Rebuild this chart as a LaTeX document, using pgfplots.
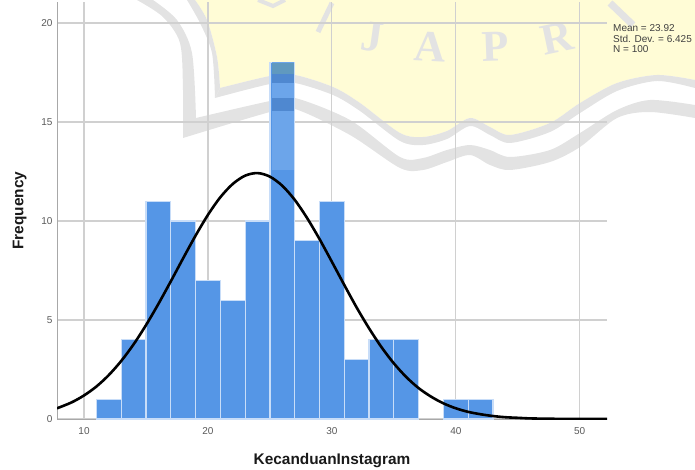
\documentclass[border=0pt]{standalone}
\usepackage{pgfplots}
\pgfplotsset{compat=1.18}
\usepackage{fontspec}
\setmainfont{Liberation Sans}
\newfontfamily\markfont{Liberation Serif}

\definecolor{barblue}{HTML}{5596E6}
\definecolor{baredge}{HTML}{C8DDF8}
\definecolor{gridgray}{HTML}{D0D0D0}
\definecolor{axisgray}{HTML}{A8A8A8}
\definecolor{wmyellow}{HTML}{FFFCD6}
\definecolor{wmgray}{HTML}{E3E3E3}
\definecolor{barlight}{HTML}{6CA5EA}
\definecolor{bartop}{HTML}{6099BF}
\definecolor{barband}{HTML}{4F88D0}

\begin{document}
\begin{tikzpicture}[x=1pt,y=1pt]
  \path[use as bounding box] (0,0) rectangle (695,469);

  % watermark, in image pixels (y runs down)
  \begin{scope}[yshift=469pt,y=-1pt]
    \clip (0,0) rectangle (695,469);
    \fill[wmyellow] plot[smooth] coordinates {(195,0) (207,20) (217,57) (220,88)}
      -- plot[smooth] coordinates {(220,88) (270,76) (295,75) (333,87) (360,103) (400,133) (423,137) (447,131) (470,118) (490,127) (510,135) (550,123) (580,103) (617,83) (657,75) (695,80)}
      -- (695,0) -- cycle;
    % inner band
    \fill[wmgray] plot[smooth] coordinates {(187,0) (200,23) (212,53) (215,98)}
      -- (220,88)
      -- plot[smooth] coordinates {(220,88) (217,57) (207,20) (195,0)} -- cycle;
    \fill[wmgray] plot[smooth] coordinates {(215,98) (270,84) (295,83) (333,95) (360,111) (400,141) (423,145) (447,139) (470,126) (490,135) (510,143) (550,132) (580,113) (617,91) (657,81) (695,88)}
      -- plot[smooth] coordinates {(695,80) (657,75) (617,83) (580,103) (550,123) (510,135) (490,127) (470,118) (447,131) (423,137) (400,133) (360,103) (333,87) (295,75) (270,76) (220,88)} -- cycle;
    % outer band
    \fill[wmgray] plot[smooth] coordinates {(137,0) (163,17) (180,43) (183,90) (183,138)}
      -- plot[smooth] coordinates {(183,138) (270,112) (295,109) (350,135) (400,168) (423,170) (447,162) (470,155) (490,165) (510,170) (550,162) (580,147) (617,118) (650,112) (695,118)}
      -- plot[smooth] coordinates {(695,105) (650,100) (617,110) (580,133) (550,150) (510,157) (490,150) (470,145) (447,150) (423,158) (400,157) (350,120) (295,98) (270,101) (196,118)}
      -- plot[smooth] coordinates {(196,118) (192,53) (177,20) (153,0)} -- cycle;
    % lettering of the arch
    \draw[wmgray,line width=5pt] (332,3) -- (318,32);
    \draw[wmgray,line width=4pt] (258,0) -- (273,6) -- (285,0);
    \draw[wmgray,line width=7pt] (610,3) -- (633,25);
    \node[text=wmgray,font=\markfont\bfseries\fontsize{44}{44}\selectfont,rotate=-8] at (372,37) {J};
    \node[text=wmgray,font=\markfont\bfseries\fontsize{44}{44}\selectfont,rotate=-3] at (430,47) {A};
    \node[text=wmgray,font=\markfont\bfseries\fontsize{44}{44}\selectfont,rotate=2] at (495,47) {P};
    \node[text=wmgray,font=\markfont\bfseries\fontsize{44}{44}\selectfont,rotate=12] at (557,38) {R};
  \end{scope}

  \begin{axis}[
      at={(57pt,50pt)}, anchor=south west,
      scale only axis,
      width=550pt, height=417pt,
      xmin=7.82, xmax=52.2,
      ymin=0, ymax=21.06,
      axis lines=left,
      axis line style={axisgray,line width=1pt,-},
      xtick={10,20,30,40,50},
      ytick={0,5,10,15,20},
      major tick length=0pt,
      grid=major,
      grid style={gridgray,line width=1.1pt},
      tick label style={text=black!65,font=\fontsize{10}{12}\selectfont},
      /pgf/number format/assume math mode=true,
      xticklabel style={yshift=-5pt},
      yticklabel style={xshift=-1pt},
      xlabel={KecanduanInstagram},
      ylabel={Frequency},
      label style={font=\bfseries\fontsize{15.4}{17}\selectfont,text=black!90},
      xlabel style={yshift=-12pt},
      ylabel style={yshift=8pt},
      clip=true,
  ]
    \addplot[ybar,bar width=2,bar shift=0pt,fill=barblue,draw=baredge,line width=1.2pt]
      coordinates {(12,1) (14,4) (16,11) (18,10) (20,7) (22,6) (24,10) (26,18)
                   (28,9) (30,11) (32,3) (34,4) (36,4) (40,1) (42,1)};

    \addplot[black,line width=2.6pt,smooth,mark=none] coordinates {
      (7.82,0.54) (9,0.84) (10,1.19) (11,1.64) (12,2.22) (13,2.93) (14,3.77)
      (15,4.74) (16,5.81) (17,6.95) (18,8.12) (19,9.26) (20,10.31) (21,11.20)
      (22,11.87) (23,12.29) (24,12.42) (25,12.24) (26,11.78) (27,11.07)
      (28,10.15) (29,9.09) (30,7.94) (31,6.77) (32,5.63) (33,4.58) (34,3.63)
      (35,2.81) (36,2.12) (37,1.56) (38,1.13) (39,0.79) (40,0.54) (41,0.36)
      (42,0.24) (43,0.15) (44,0.09) (45,0.06) (46,0.03) (48,0.01) (50,0.01)
      (52.2,0.0)};
  \end{axis}

  % watermark showing through the tall bar
  \begin{scope}[yshift=469pt,y=-1pt]
    \fill[barlight] (271.5,62) rectangle (293.5,170);
    \fill[bartop] (271.5,63) rectangle (293.5,74);
    \fill[barband] (271.5,74) rectangle (293.5,83);
    \fill[barband] (271.5,98) rectangle (293.5,111);
    \node[anchor=west,inner sep=0pt,text=black!75,font=\fontsize{10}{10}\selectfont] at (613,28) {Mean = 23.92};
    \node[anchor=west,inner sep=0pt,text=black!75,font=\fontsize{10}{10}\selectfont] at (613,38.5) {Std. Dev. = 6.425};
    \node[anchor=west,inner sep=0pt,text=black!75,font=\fontsize{10}{10}\selectfont] at (613,49) {N = 100};
  \end{scope}
\end{tikzpicture}
\end{document}
